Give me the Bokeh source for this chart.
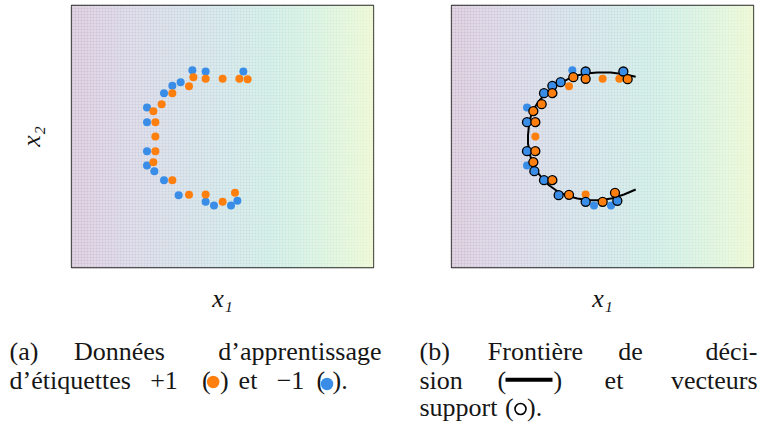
import numpy as np
from bokeh.plotting import figure
from bokeh.models import Range1d, FixedTicker
from bokeh.layouts import column, row
from bokeh.embed import file_html
from bokeh.resources import INLINE
from bokeh.core.properties import value
from bokeh.palettes import Viridis256

# ---------------- data ----------------
blue_x1 = [-0.603, -0.337, 0.417, -0.837, -1.003, -1.170, -1.510, -1.510, -1.510,
           -1.510, -1.363, -1.170, -0.877, -0.337, -0.170, 0.170, 0.297]
blue_x2 = [1.327, 1.300, 1.300, 1.087, 1.013, 0.867, 0.580, 0.287, -0.293,
           -0.580, -0.693, -0.873, -1.173, -1.307, -1.380, -1.380, -1.287]
blue_sv = [0, 1, 1, 1, 1, 1, 0, 1, 1, 0, 1, 1, 1, 1, 0, 0, 1]

orange_x1 = [-0.583, -0.337, 0.003, 0.337, 0.503, -0.670, -1.003, -1.217, -1.383,
             -1.343, -1.343, -1.343, -1.383, -1.003, -0.670, -0.337, 0.003, 0.250]
orange_x2 = [1.187, 1.153, 1.153, 1.153, 1.147, 1.007, 0.867, 0.647, 0.507,
             0.287, 0.000, -0.293, -0.513, -0.873, -1.167, -1.160, -1.307, -1.127]
orange_sv = [1, 1, 0, 0, 1, 0, 1, 1, 1, 1, 0, 1, 1, 1, 1, 0, 1, 1]

boundary_x1 = [0.664, 0.430, 0.164, -0.102, -0.336, -0.570, -0.770, -0.970, -1.136,
               -1.270, -1.370, -1.436, -1.470, -1.490, -1.490, -1.456, -1.402, -1.322,
               -1.202, -1.070, -0.902, -0.702, -0.502, -0.270, -0.036, 0.198, 0.430, 0.664]
boundary_x2 = [1.193, 1.246, 1.279, 1.279, 1.259, 1.206, 1.106, 0.993, 0.859,
               0.713, 0.559, 0.393, 0.226, 0.026, -0.140, -0.340, -0.540, -0.688,
               -0.840, -0.974, -1.094, -1.188, -1.240, -1.274, -1.274, -1.234, -1.160, -1.060]

x_label = "x\u2081"
y_label = "x\u2082"

# ---------------- style ----------------
XR = (-3.02, 3.02)
YR = (-2.62, 2.62)
ORANGE = "#ff7f0e"
BLUE = "#3a8de6"
FONT = "Liberation Serif"
TXT = "#161616"
FS = "26px"
DY = -6.5   # baseline correction for caption text


def make_background(w=302, h=262):
    pal = np.array([[int(c[1:3], 16), int(c[3:5], 16), int(c[5:7], 16)] for c in Viridis256], dtype=float)
    t = np.arange(w) / (w - 1) * 0.88
    rgb = pal[(t * 255).astype(int)]
    img = np.zeros((h, w), dtype=np.uint32)
    view = img.view(dtype=np.uint8).reshape((h, w, 4))
    jj, ii = np.meshgrid(np.arange(w), np.arange(h))
    gap = (jj % 3 == 2) | (ii % 3 == 2)
    a = np.where(gap, 0.13, 0.27)
    for k in range(3):
        view[:, :, k] = np.clip(255 * (1 - a) + rgb[None, :, k] * a, 0, 255).astype(np.uint8)
    view[:, :, 3] = 255
    return img


BG = make_background()


def panel(border_left, border_right, with_ylabel):
    p = figure(frame_width=302, frame_height=262,
               x_range=Range1d(*XR), y_range=Range1d(*YR),
               min_border_left=border_left, min_border_right=border_right,
               min_border_top=5, min_border_bottom=53,
               output_backend="svg", toolbar_location=None,
               outline_line_color="#262626", outline_line_width=1.3,
               background_fill_color="white", border_fill_color="white")
    p.grid.visible = False
    p.image_rgba(image=[BG], x=XR[0], y=YR[0], dw=XR[1] - XR[0], dh=YR[1] - YR[0])

    ax = p.xaxis[0]
    ax.ticker = FixedTicker(ticks=[])
    ax.axis_line_color = None
    ax.major_tick_line_color = None
    ax.minor_tick_line_color = None
    ax.major_tick_out = 0
    ax.minor_tick_out = 0
    ax.major_label_text_font_size = "0px"
    ax.axis_label = x_label
    ax.axis_label_text_font = FONT
    ax.axis_label_text_font_style = "italic"
    ax.axis_label_text_font_size = FS
    ax.axis_label_text_color = TXT
    ax.axis_label_standoff = 16

    ay = p.yaxis[0]
    if with_ylabel:
        ay.ticker = FixedTicker(ticks=[])
        ay.axis_line_color = None
        ay.major_tick_line_color = None
        ay.minor_tick_line_color = None
        ay.major_tick_out = 0
        ay.minor_tick_out = 0
        ay.major_label_text_font_size = "0px"
        ay.axis_label = y_label
        ay.axis_label_text_font = FONT
        ay.axis_label_text_font_style = "italic"
        ay.axis_label_text_font_size = FS
        ay.axis_label_text_color = TXT
        ay.axis_label_standoff = 26
    else:
        ay.visible = False
    return p


# ---- panel (a): training data ----
pa = panel(71, 39, True)
pa.scatter(blue_x1, blue_x2, size=8, fill_color=BLUE, line_color=None)
pa.scatter(orange_x1, orange_x2, size=8, fill_color=ORANGE, line_color=None)

# ---- panel (b): decision boundary + support vectors ----
pb = panel(39, 11, False)
pb.line(boundary_x1, boundary_x2, line_color="black", line_width=2)


def split(xs, ys, flags, want):
    return ([x for x, f in zip(xs, flags) if f == want],
            [y for y, f in zip(ys, flags) if f == want])


bx0, by0 = split(blue_x1, blue_x2, blue_sv, 0)
bx1, by1 = split(blue_x1, blue_x2, blue_sv, 1)
ox0, oy0 = split(orange_x1, orange_x2, orange_sv, 0)
ox1, oy1 = split(orange_x1, orange_x2, orange_sv, 1)
pb.scatter(bx0, by0, size=8, fill_color=BLUE, line_color=None)
pb.scatter(ox0, oy0, size=8, fill_color=ORANGE, line_color=None)
pb.scatter(bx1, by1, size=9, fill_color=BLUE, line_color="black", line_width=1.3)
pb.scatter(ox1, oy1, size=9, fill_color=ORANGE, line_color="black", line_width=1.3)

# ---- captions ----
cap = figure(width=764, height=108, x_range=Range1d(0, 764), y_range=Range1d(428, 320),
             x_axis_type=None, y_axis_type=None, min_border=0,
             output_backend="svg", toolbar_location=None,
             outline_line_color=None, background_fill_color="white", border_fill_color="white")
cap.grid.visible = False


def words(xs, ys, texts, align):
    cap.text(x=xs, y=[y + DY for y in ys], text=texts, text_font=value(FONT), text_font_size=FS,
             text_align=align, text_baseline="alphabetic", text_color=TXT)


L1, L2, L3 = 357.5, 386, 413.5
# left-aligned words
words([9, 9, 201.5, 219.5, 316, 332, 419, 419, 497, 553, 419, 504.5, 526.5],
      [L1, L2, L2, L2, L2, L2, L1, L2, L2, L2, L3, L3, L3],
      ["(a)", "d\u2019étiquettes", "(", ")", "(", ").", "(b)", "sion", "(", ")", "support", "(", ")."],
      "left")
# centred words
words([119, 163.5, 247.5, 290, 535, 630, 613.5],
      [L1, L2, L2, L2, L1, L1, L2],
      ["Données", "+1", "et", "\u22121", "Frontière", "de", "et"],
      "center")
# right-aligned words
words([381, 757, 757], [L1, L1, L2],
      ["d\u2019apprentissage", "déci-", "vecteurs"], "right")

cap.scatter([212.7], [381.5], size=12.5, fill_color=ORANGE, line_color=None)
cap.scatter([326.5], [383.5], size=12.5, fill_color=BLUE, line_color=None)
cap.line([505, 552], [379.3, 379.3], line_color="black", line_width=4)
cap.scatter([520], [408.5], size=11, fill_color=None, line_color="black", line_width=1.6)

layout = column(row(pa, pb), cap)
open("out.html", "w").write(file_html(layout, INLINE))
